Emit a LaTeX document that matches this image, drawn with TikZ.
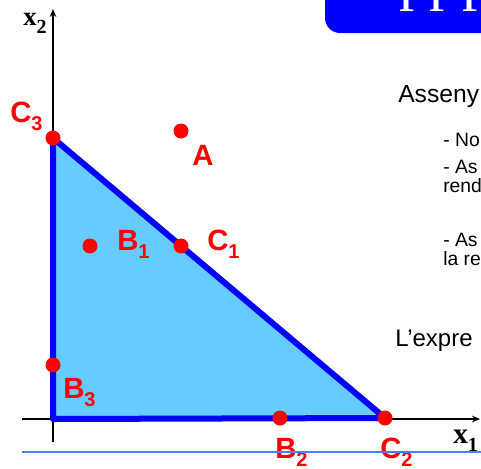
\documentclass[tikz,border=0pt]{standalone}
\usepackage{fontspec}
\setmainfont{Liberation Sans}
\newfontfamily\timesfont{Liberation Serif}
\usetikzlibrary{arrows.meta,positioning}
\definecolor{regionbg}{HTML}{66CCFF}
\definecolor{regionln}{HTML}{0000FF}
\definecolor{ptred}   {HTML}{FF0000}
\definecolor{baseln}  {HTML}{4D7CFF}
\definecolor{titlebg} {HTML}{0000FF}
\newcommand{\lowsub}[1]{\raisebox{-6pt}{\fontsize{15}{15}\selectfont #1}}
\tikzset{
  axis/.style    ={draw=black, line width=1.5pt,
                   -{Stealth[length=6pt,width=5pt]}},
  region/.style  ={fill=regionbg, draw=regionln, line width=4.5pt,
                   line join=round},
  dot/.style     ={circle, fill=ptred, inner sep=0pt, minimum size=11.25pt},
  ptlabel/.style ={anchor=base west, inner sep=0pt, text=ptred,
                   font=\fontsize{22}{24}\selectfont\bfseries},
  axlabel/.style ={anchor=base west, inner sep=0pt,
                   font=\timesfont\fontsize{22}{24}\selectfont\bfseries},
  body/.style    ={anchor=base west, inner sep=0pt,
                   font=\fontsize{18.5}{22}\selectfont},
  item/.style    ={anchor=base west, inner sep=0pt,
                   font=\fontsize{14.5}{17}\selectfont},
  titlebox/.style={fill=titlebg, rounded corners=11.25pt},
  title/.style   ={anchor=base west, inner sep=0pt, text=white,
                   font=\timesfont\fontsize{46}{50}\selectfont},
}
\begin{document}
\begin{tikzpicture}[x=0.75pt,y=-0.75pt]
  \useasboundingbox (0,0) rectangle (481,468);

  % title bar, cut by the page edge
  \fill[titlebox] (325,-30) rectangle (520,33);
  \node[title] (ttl) at (399,-2) {p\hspace{-0.5pt}p\hspace{1.75pt}p};

  % slide text
  \node[body] (intro) at (398,102) {Asseny};
  \node[item] (it1) at (443,146) {- No};
  \node[item] (it2) at (443,173) {- As};
  \node[item] (it2b) at (443,192) {rend};
  \node[item] (it3) at (443,246) {- As};
  \node[item] (it3b) at (443,265) {la re};
  \node[body,font=\fontsize{18}{22}\selectfont] (expr) at (395,346) {L’expre};

  % axes
  \coordinate (o)  at (53,419);
  \coordinate (xl) at (22,419);
  \coordinate (xr) at (480,419);
  \coordinate (yb) at (53,442);
  \coordinate (yt) at (53,9);
  \draw[axis] (xl) -- (xr);
  \draw[axis] (yb) -- (yt);
  \node[axlabel] (x1) at (453,443) {x\lowsub{1}};
  \node[axlabel,font=\timesfont\fontsize{20}{22}\selectfont\bfseries] (x2) at (23,25) {x\lowsub{2}};

  % feasible region
  \coordinate (vtop) at (53,138);
  \coordinate (vrgt) at (385,418);
  \filldraw[region] (o) -- (vtop) -- (vrgt) -- cycle;

  % points
  \node[dot] (c3) at (vtop) {};
  \node[dot] (a)  at (181,131) {};
  \node[dot] (b1) at (90,246) {};
  \node[dot] (c1) at (181,246) {};
  \node[dot] (b3) at (53,365) {};
  \node[dot] (b2) at (280,418) {};
  \node[dot] (c2) at (vrgt) {};

  \node[ptlabel] (lc3) at (10,122) {C\lowsub{3}};
  \node[ptlabel] (la)  at (192,165) {A};
  \node[ptlabel] (lb1) at (117,250) {B\lowsub{1}};
  \node[ptlabel] (lc1) at (207,250) {C\lowsub{1}};
  \node[ptlabel] (lb3) at (63,398) {B\lowsub{3}};
  \node[ptlabel] (lb2) at (275,458) {B\lowsub{2}};
  \node[ptlabel] (lc2) at (380,458) {C\lowsub{2}};

  % slide rule at the bottom
  \coordinate (bl) at (22,452);
  \coordinate (br) at (481,452);
  \draw[baseln, line width=1.9pt] (bl) -- (br);
\end{tikzpicture}
\end{document}
